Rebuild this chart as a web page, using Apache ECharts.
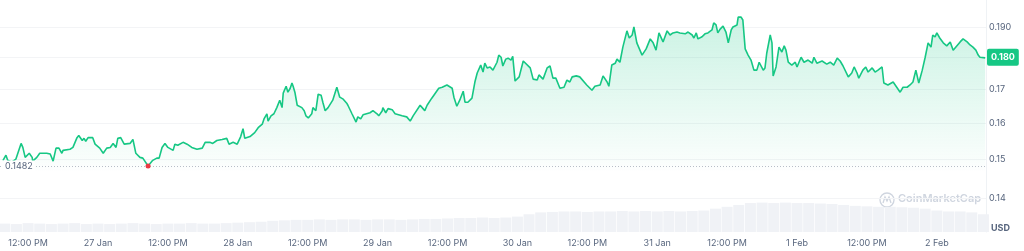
<!DOCTYPE html>
<html>
<head>
<meta charset="utf-8">
<script src="https://cdn.jsdelivr.net/npm/echarts@6/dist/echarts.min.js"></script>
<style>
html,body{margin:0;padding:0;background:#fff;}
#chart{width:1024px;height:251px;}
</style>
</head>
<body>
<div id="chart"></div>
<script>
// Time in hours since 27 Jan 00:00
const priceHours = [-16.3,-15.8,-15.5,-14.8,-14.1,-13.2,-12.9,-12.5,-12.2,-11.8,-11.3,-11.2,-10.5,-10.0,-8.8,-8.2,-7.7,-7.2,-6.7,-6.2,-6.0,-4.8,-4.3,-3.6,-3.3,-2.7,-2.4,-2.1,-1.7,-1.4,-0.9,-0.5,0.3,0.9,1.5,2.1,2.6,3.1,3.4,3.9,4.5,5.5,6.0,6.5,7.2,7.7,8.6,9.4,10.1,10.5,11.0,11.5,12.0,12.9,13.2,13.7,14.6,15.3,16.1,17.0,17.9,18.4,19.2,19.7,20.4,21.3,22.1,22.5,23.2,23.9,24.5,24.9,25.2,26.1,26.9,27.5,28.2,28.5,29.0,29.2,29.7,30.2,30.7,31.2,31.6,31.8,32.3,32.6,33.0,33.3,33.5,33.8,34.2,35.0,35.4,35.7,36.1,36.7,36.9,37.4,37.8,38.3,38.6,39.0,39.5,40.3,41.0,41.5,42.1,42.7,42.9,43.6,44.3,44.6,45.1,45.5,46.7,47.2,47.9,48.2,48.8,48.9,49.4,49.8,50.5,51.0,52.2,53.0,53.6,54.1,55.3,55.8,56.1,56.5,57.3,57.9,58.5,59.1,59.4,59.9,60.8,61.1,61.6,62.1,62.7,63.0,63.5,64.2,64.7,65.1,65.4,65.7,66.1,66.4,66.8,67.3,67.8,68.5,68.8,69.2,69.5,70.0,70.4,70.9,71.2,71.6,72.3,73.0,73.3,74.2,74.7,75.4,75.7,76.4,77.1,77.6,78.1,78.6,79.3,80.0,80.5,81.0,81.4,82.1,82.7,83.9,84.8,85.3,86.2,86.7,87.4,87.7,88.2,88.8,89.1,89.6,90.1,90.8,91.2,91.7,92.0,92.5,93.4,94.1,94.8,95.3,95.8,96.3,97.0,97.7,98.2,98.7,99.4,99.9,100.8,101.3,102.0,102.3,102.7,103.0,103.7,104.2,104.7,105.4,105.7,106.1,106.4,106.8,107.3,107.8,108.2,108.7,109.0,109.7,109.9,110.4,110.7,111.1,111.6,112.1,112.6,113.1,113.5,114.2,114.5,114.8,115.4,115.7,115.9,116.4,116.9,117.4,117.8,118.1,118.5,119.1,119.7,120.0,120.7,121.2,121.9,122.6,122.9,123.4,124.3,125.1,125.7,126.3,126.9,127.4,127.9,128.8,129.4,129.8,130.3,130.6,131.3,131.8,132.2,132.9,133.4,133.9,134.6,134.9,135.6,136.5,137.0,137.7,138.2,138.9,139.4,139.9,140.4,140.9,141.5,142.0,142.5,143.0,143.3,143.7,144.0,144.5,145.1,145.7,146.3,146.8,147.1,148.0,148.5,149.2,149.7,150.2,150.7,151.1,151.4,152.3];
const prices = [0.1497,0.1511,0.1497,0.1492,0.1500,0.1543,0.1532,0.1505,0.1500,0.1516,0.1505,0.1495,0.1505,0.1516,0.1516,0.1514,0.1495,0.1530,0.1530,0.1516,0.1524,0.1527,0.1532,0.1559,0.1565,0.1551,0.1557,0.1549,0.1559,0.1557,0.1559,0.1541,0.1530,0.1516,0.1530,0.1532,0.1543,0.1532,0.1557,0.1559,0.1541,0.1543,0.1554,0.1516,0.1505,0.1503,0.1482,0.1497,0.1503,0.1503,0.1532,0.1543,0.1532,0.1524,0.1541,0.1538,0.1546,0.1541,0.1532,0.1527,0.1530,0.1546,0.1546,0.1543,0.1551,0.1554,0.1557,0.1541,0.1546,0.1541,0.1562,0.1584,0.1557,0.1562,0.1573,0.1587,0.1597,0.1612,0.1627,0.1606,0.1621,0.1627,0.1645,0.1667,0.1645,0.1688,0.1709,0.1691,0.1703,0.1719,0.1709,0.1691,0.1652,0.1645,0.1636,0.1621,0.1615,0.1627,0.1645,0.1636,0.1685,0.1682,0.1661,0.1636,0.1645,0.1667,0.1706,0.1676,0.1670,0.1658,0.1652,0.1627,0.1603,0.1618,0.1612,0.1624,0.1630,0.1636,0.1627,0.1621,0.1636,0.1645,0.1630,0.1642,0.1639,0.1627,0.1621,0.1618,0.1606,0.1621,0.1652,0.1642,0.1636,0.1652,0.1673,0.1688,0.1703,0.1706,0.1700,0.1713,0.1703,0.1676,0.1649,0.1667,0.1694,0.1661,0.1661,0.1673,0.1722,0.1750,0.1753,0.1775,0.1753,0.1781,0.1766,0.1769,0.1759,0.1784,0.1807,0.1800,0.1772,0.1794,0.1797,0.1791,0.1803,0.1725,0.1738,0.1788,0.1784,0.1766,0.1731,0.1728,0.1744,0.1731,0.1766,0.1772,0.1734,0.1734,0.1703,0.1706,0.1728,0.1722,0.1738,0.1741,0.1738,0.1713,0.1697,0.1709,0.1713,0.1741,0.1722,0.1709,0.1775,0.1781,0.1794,0.1784,0.1833,0.1887,0.1863,0.1873,0.1900,0.1847,0.1807,0.1827,0.1860,0.1847,0.1823,0.1880,0.1850,0.1887,0.1873,0.1880,0.1883,0.1880,0.1877,0.1883,0.1873,0.1863,0.1880,0.1860,0.1867,0.1877,0.1880,0.1890,0.1914,0.1907,0.1880,0.1893,0.1903,0.1883,0.1847,0.1890,0.1900,0.1907,0.1934,0.1934,0.1924,0.1827,0.1807,0.1791,0.1759,0.1759,0.1784,0.1759,0.1766,0.1813,0.1873,0.1847,0.1741,0.1769,0.1833,0.1817,0.1837,0.1823,0.1784,0.1775,0.1784,0.1769,0.1800,0.1784,0.1791,0.1781,0.1800,0.1781,0.1788,0.1778,0.1784,0.1775,0.1797,0.1788,0.1772,0.1738,0.1750,0.1769,0.1750,0.1734,0.1759,0.1769,0.1753,0.1766,0.1753,0.1759,0.1769,0.1719,0.1713,0.1722,0.1709,0.1691,0.1706,0.1706,0.1713,0.1722,0.1759,0.1719,0.1759,0.1800,0.1847,0.1833,0.1873,0.1867,0.1880,0.1863,0.1847,0.1837,0.1850,0.1823,0.1823,0.1850,0.1860,0.1850,0.1840,0.1833,0.1823,0.1807,0.1800,0.1798];

// Volume every 2 hours (millions USD)
const volumeHours = [-16,-14,-12,-10,-8,-6,-4,-2,0,2,4,6,8,10,12,14,16,18,20,22,24,26,28,30,32,34,36,38,40,42,44,46,48,50,52,54,56,58,60,62,64,66,68,70,72,74,76,78,80,82,84,86,88,90,92,94,96,98,100,102,104,106,108,110,112,114,116,118,120,122,124,126,128,130,132,134,136,138,140,142,144,146,148,150,152];
const volumes = [18,17,19,18,17,18,19,17,18,17,18,19,18,17,18,18,19,18,18,19,20,21,22,24,25,26,26,27,26,27,27,26,27,27,26,27,28,28,29,30,30,31,30,31,33,38,42,43,44,44,43,44,44,45,44,45,44,45,44,45,46,50,54,58,62,63,62,63,62,62,61,60,58,56,55,54,54,53,52,50,46,44,44,42,38];

const tickHours = [-12,0,12,24,36,48,60,72,84,96,108,120,132,144];
const tickLabels = ['12:00 PM','27 Jan','12:00 PM','28 Jan','12:00 PM','29 Jan','12:00 PM','30 Jan','12:00 PM','31 Jan','12:00 PM','1 Feb','12:00 PM','2 Feb'];

const priceTicks = [0.14,0.15,0.16,0.17,0.18,0.19];
const priceTickLabels = ['0.14','0.15','0.16','0.17','','0.190'];

const lowPrice = 0.1482;
const lowHour = 8.6;
const currentPrice = 0.1800;

const xMin = -16.82, xMax = 152.44;
const green = '#16c784';
const labelColor = '#58667e';
const FONT = 'Inter, "Noto Sans", sans-serif';

const chart = echarts.init(document.getElementById('chart'));
chart.setOption({
  animation: false,
  textStyle: { fontFamily: FONT },
  grid: [
    { left: 0, right: 38, top: 0, bottom: 19 },
    { left: 0, right: 38, top: 190, bottom: 19 }
  ],
  xAxis: [
    {
      type: 'value', gridIndex: 0, min: xMin, max: xMax,
      axisLine: { show: false }, axisTick: { show: false },
      splitLine: { show: false },
      axisLabel: {
        customValues: tickHours,
        color: labelColor, fontSize: 9, margin: 7, fontFamily: FONT,
        formatter: v => { const i = tickHours.indexOf(Math.round(v)); return i >= 0 ? tickLabels[i] : ''; }
      }
    },
    {
      type: 'value', gridIndex: 1, min: xMin, max: xMax, show: false
    }
  ],
  yAxis: [
    {
      type: 'log', logBase: 10, gridIndex: 0, position: 'right',
      min: 0.1317, max: 0.1994,
      axisLine: { show: true, onZero: false, lineStyle: { color: '#eff2f5' } },
      axisTick: { show: false, customValues: priceTicks },
      splitLine: { show: true, lineStyle: { color: '#f3f4f6', width: 1 } },
      axisLabel: {
        customValues: priceTicks,
        color: labelColor, fontSize: 9, margin: 3, fontFamily: FONT,
        formatter: v => { let i = -1; priceTicks.forEach((t, k) => { if (Math.abs(t - v) < 1e-6) i = k; }); return i >= 0 ? priceTickLabels[i] : ''; }
      }
    },
    {
      type: 'value', gridIndex: 1, min: 0, max: 90, show: false
    }
  ],
  series: [
    {
      type: 'bar', xAxisIndex: 1, yAxisIndex: 1,
      data: volumeHours.map((h, i) => [h, volumes[i]]),
      barWidth: 11,
      itemStyle: { color: '#f0f2f6' },
      silent: true, z: 1
    },
    {
      type: 'line', xAxisIndex: 0, yAxisIndex: 0,
      data: priceHours.map((h, i) => [h, prices[i]]),
      showSymbol: false, symbol: 'none',
      lineStyle: { color: green, width: 1.6 },
      areaStyle: {
        origin: 'start',
        color: new echarts.graphic.LinearGradient(0, 0, 0, 1, [
          { offset: 0, color: 'rgba(22,199,132,0.32)' },
          { offset: 0.68, color: 'rgba(22,199,132,0.03)' },
          { offset: 0.72, color: 'rgba(22,199,132,0)' },
          { offset: 1, color: 'rgba(22,199,132,0)' }
        ])
      },
      z: 3,
      markLine: {
        silent: true, symbol: 'none',
        lineStyle: { color: '#b8bec8', type: [1, 2], width: 1 },
        label: { show: false },
        data: [[{ coord: [xMin, lowPrice] }, { coord: [xMax, lowPrice] }]]
      },
      markPoint: {
        silent: true,
        data: [
          {
            coord: [lowHour, lowPrice], symbol: 'circle', symbolSize: 5,
            itemStyle: { color: '#ea3943' }, label: { show: false }
          },
          {
            coord: [xMin, lowPrice], symbol: 'circle', symbolSize: 0,
            label: {
              show: true, position: 'right', distance: 3,
              formatter: String(lowPrice), color: labelColor, fontSize: 9,
              backgroundColor: '#ffffff', padding: [1, 2], fontFamily: FONT
            }
          },
          {
            coord: [xMax, currentPrice], symbol: 'circle', symbolSize: 0,
            label: {
              show: true, position: 'right', distance: 1,
              formatter: currentPrice.toFixed(3), color: '#ffffff', fontSize: 9, fontWeight: 'bold',
              backgroundColor: green, padding: [4, 4], borderRadius: 2, fontFamily: FONT
            }
          }
        ]
      }
    }
  ],
  graphic: [
    {
      type: 'circle', shape: { cx: 887, cy: 200, r: 7 },
      style: { fill: 'none', stroke: '#cfd5df', lineWidth: 1.3 }, silent: true
    },
    {
      type: 'polyline', shape: { points: [[883, 203], [885, 197], [887, 201], [889, 197], [891, 203]] },
      style: { fill: 'none', stroke: '#cfd5df', lineWidth: 1.3 }, silent: true
    },
    {
      type: 'text', left: 898, top: 193,
      style: { text: 'CoinMarketCap', font: '600 11px ' + FONT, fill: '#cfd5df' }, silent: true
    },
    {
      type: 'text', left: 991, top: 224,
      style: { text: 'USD', font: 'bold 9px ' + FONT, fill: labelColor }, silent: true
    }
  ]
});
</script>
</body>
</html>
